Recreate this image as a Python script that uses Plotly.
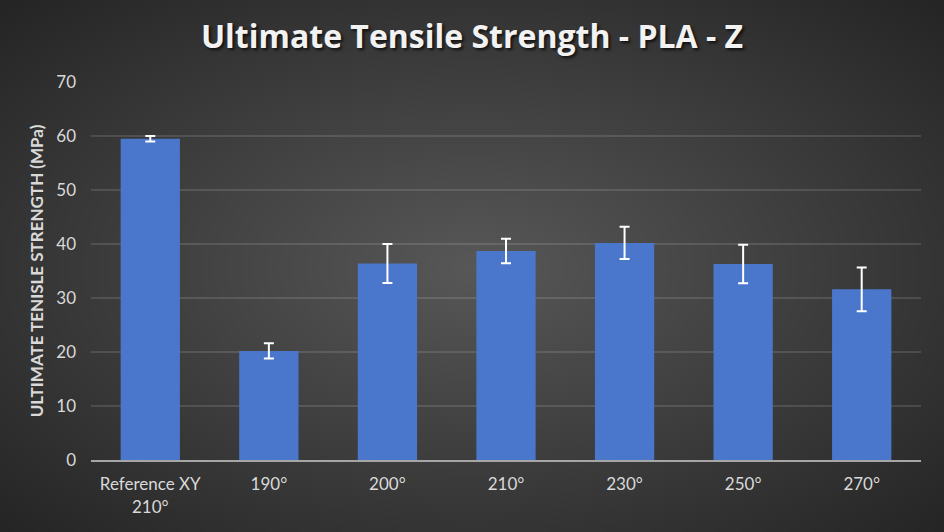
import base64, struct, zlib
import numpy as np
import plotly.graph_objects as go

categories = ["Reference XY<br>210°", "190°", "200°", "210°", "230°", "250°", "270°"]
uts_mean = [59.5, 20.2, 36.4, 38.7, 40.2, 36.3, 31.6]
uts_err = [0.5, 1.4, 3.6, 2.25, 3.0, 3.55, 4.05]
y_ticks = [0, 10, 20, 30, 40, 50, 60, 70]

W, H = 944, 532


def radial_png(w, h, c_in, c_out):
    yy, xx = np.mgrid[0:h, 0:w]
    dx = (xx - w / 2) / (w / 2)
    dy = (yy - h / 2) / (h / 2)
    r = np.clip(np.sqrt(dx ** 2 + dy ** 2) / np.sqrt(2), 0, 1)
    v = (c_in + (c_out - c_in) * r).astype(np.uint8)
    rgb = np.stack([v, v, v], axis=-1)
    raw = b"".join(b"\x00" + rgb[i].tobytes() for i in range(h))

    def chunk(t, d):
        c = struct.pack(">I", len(d)) + t + d
        return c + struct.pack(">I", zlib.crc32(t + d) & 0xFFFFFFFF)

    png = b"\x89PNG\r\n\x1a\n" + chunk(b"IHDR", struct.pack(">IIBBBBB", w, h, 8, 2, 0, 0, 0))
    png += chunk(b"IDAT", zlib.compress(raw, 9)) + chunk(b"IEND", b"")
    return "data:image/png;base64," + base64.b64encode(png).decode()


bg = radial_png(236, 133, 0x58, 0x25)

fig = go.Figure()
fig.add_trace(go.Bar(
    x=categories, y=uts_mean,
    marker=dict(color="#4a77cc", line=dict(width=0)),
    error_y=dict(type="data", array=uts_err, visible=True, color="white", thickness=2, width=5),
    hoverinfo="skip",
))

ml, mr, mt, mb = 91, 23, 82, 72
pw, ph = W - ml - mr, H - mt - mb
fig.update_layout(
    width=W, height=H,
    margin=dict(l=ml, r=mr, t=mt, b=mb),
    paper_bgcolor="#3a3a3a",
    plot_bgcolor="rgba(0,0,0,0)",
    bargap=0.5,
    showlegend=False,
    font=dict(family="Lato, Open Sans, sans-serif", color="#d9d9d9", size=17),
    title=dict(
        text="Ultimate Tensile Strength - PLA - Z",
        x=0.5, xref="container", xanchor="center",
        y=1 - 37 / H, yref="container", yanchor="middle",
        font=dict(family="Open Sans, sans-serif", size=32, color="#f2f2f2", weight="bold",
                  shadow="2px 2px 3px rgba(0,0,0,0.7)"),
    ),
    images=[dict(
        source=bg, xref="paper", yref="paper",
        x=-ml / pw, y=1 + mt / ph, sizex=W / pw, sizey=H / ph,
        xanchor="left", yanchor="top", sizing="stretch", layer="below",
    )],
    xaxis=dict(
        showgrid=False, showline=True, linecolor="#a6a6a6", linewidth=2,
        ticks="", ticklabelstandoff=8, tickfont=dict(size=17, color="#d9d9d9"),
    ),
    yaxis=dict(
        range=[0, 70], tickvals=y_ticks, showgrid=True, gridcolor="rgba(255,255,255,0.12)",
        gridwidth=1.5, zeroline=False, showline=False, ticks="", ticklabelstandoff=14,
        tickfont=dict(size=17, color="#d9d9d9"),
        title=dict(text="ULTIMATE TENISLE STRENGTH (MPa)", standoff=8,
                   font=dict(size=17, color="#d9d9d9", weight="bold")),
    ),
)

fig.write_html(
    "out.html",
    config={"displayModeBar": False},
    post_script="document.body.style.margin='0';document.body.style.overflow='hidden';",
)
